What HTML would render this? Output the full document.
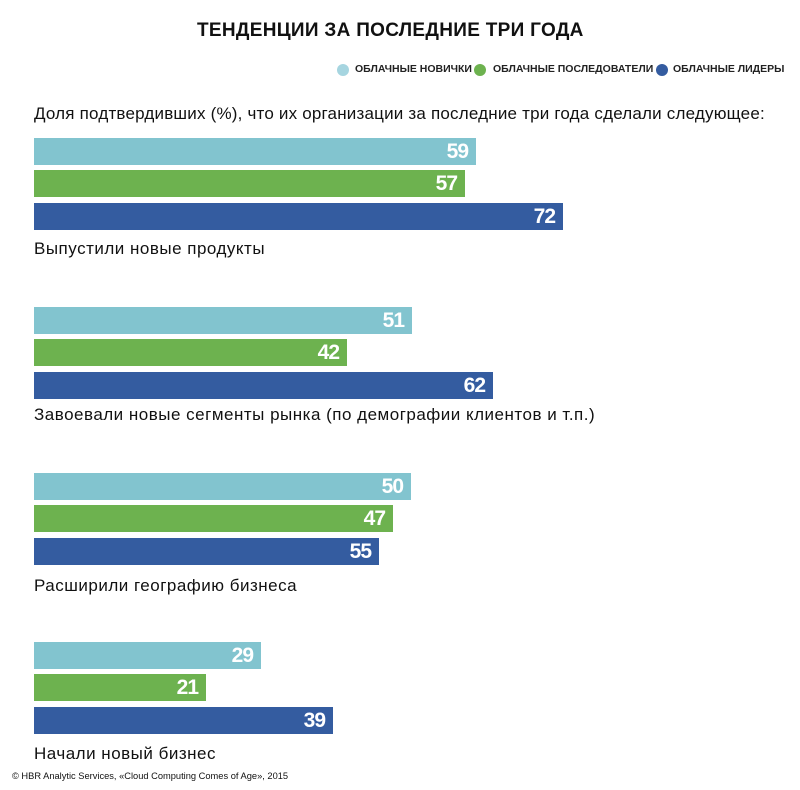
<!DOCTYPE html>
<html><head><meta charset="utf-8"><style>
body{margin:0;width:800px;height:790px;background:#fff;position:relative;font-family:"Liberation Sans","DejaVu Sans",sans-serif;color:#111;overflow:hidden}
.t{position:absolute;white-space:nowrap}
.b{position:absolute;left:34px;height:27px}
.b span{position:absolute;right:8px;top:1px;color:#fff;font-weight:bold;font-size:21px;letter-spacing:-1px;line-height:26px}
.c1{background:#82c4cf}.c2{background:#6db24f}.c3{background:#345ca0}
.lab{font-size:17px;left:34px;letter-spacing:0.5px}
.dot{position:absolute;width:12px;height:12px;border-radius:50%;top:64px}
.lg{font-size:10.5px;top:63px;font-weight:bold;color:#222}
</style></head><body>
<div class="t" style="left:197px;top:20px;font-size:19px;font-weight:bold;letter-spacing:0.3px">ТЕНДЕНЦИИ ЗА ПОСЛЕДНИЕ ТРИ ГОДА</div>
<div class="dot" style="left:337px;background:#a6d5e0"></div><div class="t lg" style="left:355px">ОБЛАЧНЫЕ НОВИЧКИ</div>
<div class="dot" style="left:474px;background:#6db24f"></div><div class="t lg" style="left:493px">ОБЛАЧНЫЕ ПОСЛЕДОВАТЕЛИ</div>
<div class="dot" style="left:656px;background:#345ca0"></div><div class="t lg" style="left:673px">ОБЛАЧНЫЕ ЛИДЕРЫ</div>
<div class="t lab" style="top:104px;letter-spacing:0.2px">Доля подтвердивших (%), что их организации за последние три года сделали следующее:</div>

<div class="b c1" style="top:138px;width:442px"><span>59</span></div>
<div class="b c2" style="top:170px;width:431px"><span>57</span></div>
<div class="b c3" style="top:203px;width:529px"><span>72</span></div>
<div class="t lab" style="top:239px">Выпустили новые продукты</div>

<div class="b c1" style="top:307px;width:378px"><span>51</span></div>
<div class="b c2" style="top:339px;width:313px"><span>42</span></div>
<div class="b c3" style="top:372px;width:459px"><span>62</span></div>
<div class="t lab" style="top:405px">Завоевали новые сегменты рынка (по демографии клиентов и т.п.)</div>

<div class="b c1" style="top:473px;width:377px"><span>50</span></div>
<div class="b c2" style="top:505px;width:359px"><span>47</span></div>
<div class="b c3" style="top:538px;width:345px"><span>55</span></div>
<div class="t lab" style="top:576px">Расширили географию бизнеса</div>

<div class="b c1" style="top:642px;width:227px"><span>29</span></div>
<div class="b c2" style="top:674px;width:172px"><span>21</span></div>
<div class="b c3" style="top:707px;width:299px"><span>39</span></div>
<div class="t lab" style="top:744px">Начали новый бизнес</div>
<div class="t" style="left:12px;top:771px;font-size:9.3px">© HBR Analytic Services, «Cloud Computing Comes of Age», 2015</div>
</body></html>
